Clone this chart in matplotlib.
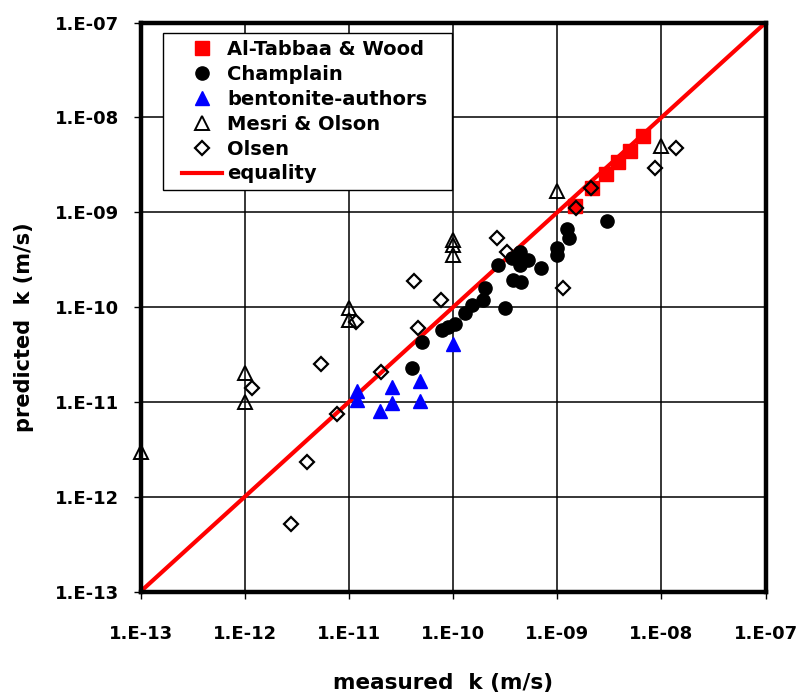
import numpy as np
import matplotlib
matplotlib.use("Agg")
import matplotlib.pyplot as plt
from matplotlib.ticker import FuncFormatter, FixedLocator, NullLocator
from matplotlib.patches import Rectangle

plt.rcParams['font.family'] = ['DejaVu Sans']
plt.rcParams['font.weight'] = 'bold'

# log10 values (measured, predicted)
tabbaa_x = [-8.83, -8.667, -8.536, -8.415, -8.302, -8.175]
tabbaa_y = [-8.934, -8.744, -8.597, -8.467, -8.351, -8.196]

champ_x = [-10.397, -10.301, -10.109, -10.046, -9.982, -9.886, -9.821, -9.710,
           -9.694, -9.566, -9.502, -9.438, -9.358, -9.278, -9.358, -9.422,
           -9.351, -9.159, -9.006, -9.0, -8.910, -8.885, -8.526]
champ_y = [-10.645, -10.364, -10.241, -10.206, -10.178, -10.065, -9.977, -9.925,
           -9.801, -9.556, -10.012, -9.485, -9.415, -9.503, -9.556, -9.714,
           -9.732, -9.590, -9.380, -9.450, -9.179, -9.274, -9.089]

bent_x = [-10.919, -10.919, -10.702, -10.589, -10.589, -10.318, -10.318, -10.004]
bent_y = [-10.881, -10.979, -11.092, -10.839, -11.014, -10.775, -10.989, -10.389]

mesri_x = [-13.0, -12.0, -12.0, -11.0, -11.0, -10.0, -10.0, -10.0, -9.0, -8.0]
mesri_y = [-11.53, -10.70, -11.0, -10.01, -10.14, -9.29, -9.345, -9.45, -8.78, -8.30]

olsen_x = [-11.117, -11.405, -11.556, -11.933, -11.271, -10.695, -10.935, -10.372,
           -10.119, -10.334, -9.582, -9.48, -8.942, -8.82, -8.68, -8.062, -7.861]
olsen_y = [-11.13, -11.636, -12.286, -10.856, -10.603, -10.687, -10.16, -9.724,
           -9.925, -10.217, -9.274, -9.415, -9.80, -8.958, -8.747, -8.536, -8.325]

equality = [1e-13, 1e-7]
decades = [-13, -12, -11, -10, -9, -8, -7]

fig = plt.figure(figsize=(8.03, 6.96), dpi=100)
ax = fig.add_axes([0.175, 0.150, 0.7785, 0.8175])

ax.plot(equality, equality, color='red', lw=3, zorder=2, label='equality')
ax.plot(10.0**np.array(tabbaa_x), 10.0**np.array(tabbaa_y), 's', color='red',
        ms=10, mec='red', zorder=3, label='Al-Tabbaa & Wood', clip_on=False)
ax.plot(10.0**np.array(champ_x), 10.0**np.array(champ_y), 'o', color='black',
        ms=9.5, zorder=3, label='Champlain', clip_on=False)
ax.plot(10.0**np.array(bent_x), 10.0**np.array(bent_y), '^', color='blue',
        ms=9.5, zorder=4, label='bentonite-authors', clip_on=False)
ax.plot(10.0**np.array(mesri_x), 10.0**np.array(mesri_y), '^', mfc='none',
        mec='black', mew=1.4, ms=9.5, zorder=5, label='Mesri & Olson', clip_on=False)
ax.plot(10.0**np.array(olsen_x), 10.0**np.array(olsen_y), 'D', mfc='none',
        mec='black', mew=1.6, ms=7, zorder=5, label='Olsen', clip_on=False)

ax.set_xscale('log')
ax.set_yscale('log')
ax.set_xlim(1e-13, 1e-7)
ax.set_ylim(1e-13, 1e-7)
ticks = [10.0**d for d in decades]
fmt = FuncFormatter(lambda v, p: '1.E-%02d' % round(-np.log10(v)))
for axis in (ax.xaxis, ax.yaxis):
    axis.set_major_locator(FixedLocator(ticks))
    axis.set_minor_locator(NullLocator())
    axis.set_major_formatter(fmt)
ax.tick_params(axis='both', direction='out', length=5, width=1, labelsize=13)
ax.tick_params(axis='y', pad=10.5)
ax.tick_params(axis='x', pad=19)
for lab in ax.get_xticklabels() + ax.get_yticklabels():
    lab.set_fontweight('bold')

ax.grid(True, which='major', color='black', lw=1.1)
ax.set_axisbelow(True)
for side in ['left', 'bottom', 'top', 'right']:
    ax.spines[side].set_linewidth(3.2)

ax.set_xlabel('measured  k (m/s)', fontsize=15.5, fontweight='bold', va='center')
ax.set_ylabel('predicted  k (m/s)', fontsize=15, fontweight='bold', va='center')
ax.xaxis.set_label_coords(0.484, -0.160)
ax.yaxis.set_label_coords(-0.186, 0.464)

# legend frame drawn separately so the padding matches the original
frame = Rectangle((0.0365, 0.706), 0.4613, 0.2764, transform=ax.transAxes,
                  facecolor='white', edgecolor='black', lw=1.0, zorder=6)
ax.add_patch(frame)

handles, labels = ax.get_legend_handles_labels()
order = [1, 2, 3, 4, 5, 0]
leg = ax.legend([handles[i] for i in order], [labels[i] for i in order],
                loc='upper left', bbox_to_anchor=(0.066, 0.969), borderaxespad=0,
                frameon=False, prop={'size': 14, 'weight': 'bold'},
                handlelength=2.05, labelspacing=0.30, borderpad=0,
                handletextpad=0.3)
leg.set_zorder(7)

fig.savefig('out.png', dpi=100)
